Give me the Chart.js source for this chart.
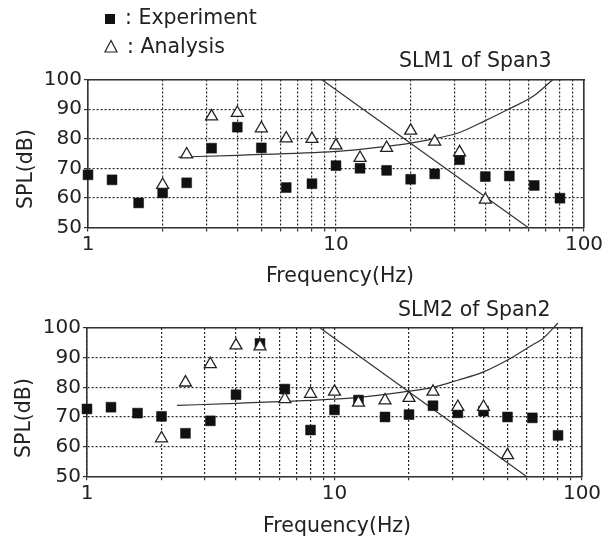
<!DOCTYPE html>
<html><head><meta charset="utf-8">
<script src="https://cdn.jsdelivr.net/npm/chart.js@4"></script>
<style>
html,body{margin:0;padding:0;background:#fff;}
#wrap{position:relative;width:614px;height:539px;overflow:hidden;font-family:"DejaVu Sans",Verdana,sans-serif;color:#222;}
canvas{position:absolute;left:0;}
.t{position:absolute;white-space:nowrap;font-size:20.5px;line-height:20px;}
.v{position:absolute;white-space:nowrap;font-size:20.5px;line-height:24px;width:120px;height:24px;text-align:center;transform:rotate(-90deg);}
</style></head><body>
<div id="wrap">
<canvas id="c1" width="614" height="300" style="top:0px"></canvas>
<canvas id="c2" width="614" height="239" style="top:300px"></canvas>
<div style="position:absolute;left:105px;top:14px;width:10px;height:9.5px;background:#111"></div>
<svg style="position:absolute;left:104px;top:39px" width="15" height="15"><polygon points="7,1.5 13,13 1,13" fill="#fff" stroke="#222" stroke-width="1.2"/></svg>
<div class="t" style="left:125px;top:7px">: Experiment</div>
<div class="t" style="left:127px;top:36px">: Analysis</div>
<div class="t" style="left:399px;top:49.5px">SLM1 of Span3</div>
<div class="t" style="left:398px;top:298.6px">SLM2 of Span2</div>
<div class="t" style="left:266px;top:264.6px">Frequency(Hz)</div>
<div class="t" style="left:263px;top:514.6px">Frequency(Hz)</div>
<div class="v" style="left:-35.5px;top:157px">SPL(dB)</div>
<div class="v" style="left:-37.5px;top:405.5px">SPL(dB)</div>
</div>
<script>
const X_TICKS = [1,2,3,4,5,6,7,8,9,10,20,30,40,50,60,70,80,90,100];
const X_LABELS = [1,10,100];
const Y_TICKS = [50,60,70,80,90,100];
const FREQ = [1,1.25,1.6,2,2.5,3.15,4,5,6.3,8,10,12.5,16,20,25,31.5,40,50,63,80];

const EXP1 = [67.8,66.1,58.3,61.7,65.1,76.8,83.9,76.9,63.5,64.8,70.9,70.0,69.3,66.3,68.1,72.9,67.2,67.4,64.2,59.9];
const ANA1_FREQ = [2,2.5,3.15,4,5,6.3,8,10,12.5,16,20,25,31.5,40];
const ANA1 = [64.4,74.7,87.5,88.7,83.5,80.1,79.9,77.7,73.5,76.9,82.7,79.0,75.4,59.4];
const CURVE1_FREQ = [2.31,4,10,12.5,16,20,25,31.5,40,50,63,75];
const CURVE1 = [73.8,74.4,75.7,76.4,77.4,78.5,80.0,82.1,86.1,90.1,94.6,100];

const EXP2 = [72.7,73.3,71.3,70.2,64.5,68.7,77.5,94.8,79.4,65.6,72.4,75.7,70.0,70.8,73.8,71.4,72.0,70.0,69.7,63.8];
const ANA2_FREQ = [2,2.5,3.15,4,5,6.3,8,10,12.5,16,20,25,31.5,40,50];
const ANA2 = [62.8,81.6,87.8,94.1,93.8,76.0,77.8,78.5,74.8,75.6,76.4,78.5,73.4,73.4,57.1];
const CURVE2_FREQ = [2.31,4,10,12.5,16,20,25,31.5,40,50,63,69,80];
const CURVE2 = [73.9,74.6,76.0,76.6,77.6,78.7,80.0,82.4,85.2,89.2,94.3,96.2,101.7];

const LIMIT_FREQ = [8.75,59.5];
const LIMIT = [100,50];

function pts(xs, ys){ return xs.map((x,i)=>({x:x, y:ys[i]})); }

const FONT = {family:'DejaVu Sans', size:20};
const GRID = {display:true, drawOnChartArea:true, color:'rgba(40,40,40,1)', lineWidth:1.2, drawTicks:true, tickLength:4, tickColor:'#333', tickWidth:1.2};

function build(id, exp, anaF, ana, cF, c, pad, xh, yw){
  return new Chart(document.getElementById(id), {
    type:'scatter',
    data:{datasets:[
      {label:'Analysis', data:pts(anaF, ana), pointStyle:'triangle', pointRadius:6.9,
       pointBackgroundColor:'#fff', pointBorderColor:'#222', pointBorderWidth:1.3, order:1, clip:false},
      {label:'Experiment', data:pts(FREQ, exp), pointStyle:'rect', pointRadius:7,
       pointBackgroundColor:'#111', pointBorderColor:'#111', pointBorderWidth:0.5, order:2, clip:false},
      {label:'curve', data:pts(cF, c), showLine:true, pointRadius:0, borderColor:'#333', borderWidth:1.2,
       cubicInterpolationMode:'monotone', order:3, clip:false},
      {label:'limit', data:pts(LIMIT_FREQ, LIMIT), showLine:true, pointRadius:0, borderColor:'#333', borderWidth:1.2,
       order:3, clip:false}
    ]},
    options:{
      responsive:false, animation:false, devicePixelRatio:1, events:[],
      layout:{padding:pad},
      plugins:{legend:{display:false}, tooltip:{enabled:false}},
      scales:{
        x:{type:'logarithmic', position:'bottom', min:1, max:100,
           afterBuildTicks:s=>{ s.ticks = X_TICKS.map(v=>({value:v})); },
           afterFit:s=>{ s.height = xh; },
           ticks:{autoSkip:false, maxRotation:0, minRotation:0, padding:1, color:'#222', font:FONT,
                  callback:v=>X_LABELS.includes(v)?String(v):''},
           grid:GRID,
           border:{display:true, color:'#333', width:1.6, dash:[2,2]}},
        x2:{type:'logarithmic', position:'top', min:1, max:100,
           ticks:{display:false}, grid:{display:false},
           border:{display:true, color:'#333', width:1.6}},
        y:{position:'left', min:50, max:100,
           afterBuildTicks:s=>{ s.ticks = Y_TICKS.map(v=>({value:v})); },
           afterFit:s=>{ s.width = yw; },
           ticks:{padding:2, color:'#222', font:FONT},
           grid:GRID,
           border:{display:true, color:'#333', width:1.6, dash:[2,2]}},
        y2:{position:'right', min:50, max:100,
           ticks:{display:false}, grid:{display:false},
           border:{display:true, color:'#333', width:1.6}}
      }
    }
  });
}

build('c1', EXP1, ANA1_FREQ, ANA1, CURVE1_FREQ, CURVE1, {left:0, top:71.5, right:22, bottom:0}, 72.5, 88);
build('c2', EXP2, ANA2_FREQ, ANA2, CURVE2_FREQ, CURVE2, {left:0, top:20, right:24, bottom:0}, 62.7, 87);
</script>
</body></html>
